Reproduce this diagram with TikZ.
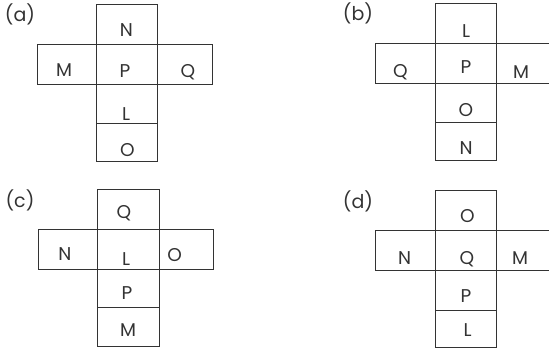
\documentclass[tikz,border=0pt]{standalone}
\usepackage{fontspec}
\setmainfont{Poppins}
\definecolor{ink}{HTML}{333333}
\tikzset{
  cellline/.style={draw=ink, line width=1pt},
  letter/.style={inner sep=0pt, text height=13pt, text depth=0pt, text=ink, font=\fontsize{18.5}{20}\selectfont},
  tag/.style={inner sep=0pt, text=ink, font=\fontsize{19}{22}\selectfont}
}
\begin{document}
\begin{tikzpicture}[x=1pt,y=-1pt]
\useasboundingbox (0,0) rectangle (549,350);
% ---------- (a)
\node[tag] (la) at (20,14) {(a)};
\draw[cellline] (96,5) rectangle (157,45);
\draw[cellline] (37,45) rectangle (96,85);
\draw[cellline] (96,45) rectangle (157,85);
\draw[cellline] (157,45) rectangle (212,85);
\draw[cellline] (96,85) rectangle (157,124);
\draw[cellline] (96,124) rectangle (157,162);
\node[letter] (aN) at (126.5,30) {N};
\node[letter] (aM) at (64,70) {M};
\node[letter] (aP) at (125,71.5) {P};
\node[letter] (aQ) at (188,71) {Q};
\node[letter] (aL) at (126,114) {L};
\node[letter] (aO) at (127.5,150) {O};
% ---------- (b)
\node[tag] (lb) at (358,13) {(b)};
\draw[cellline] (435,4) rectangle (496,44);
\draw[cellline] (375,44) rectangle (435,84);
\draw[cellline] (435,44) rectangle (496,84);
\draw[cellline] (549.6,44) -- (496,44) -- (496,84) -- (549.6,84);
\draw[cellline] (435,84) rectangle (496,123);
\draw[cellline] (435,123) rectangle (496,161);
\node[letter] (bL) at (466,31) {L};
\node[letter] (bP) at (466,67) {P};
\node[letter] (bQ) at (400.5,71) {Q};
\node[letter] (bM) at (521,72) {M};
\node[letter] (bO) at (466,110) {O};
\node[letter] (bN) at (466,148) {N};
% ---------- (c)
\node[tag] (lc) at (20,200) {(c)};
\draw[cellline] (97.7,189) rectangle (159,229.3);
\draw[cellline] (38.3,229.3) rectangle (97.7,269.3);
\draw[cellline] (97.7,229.3) rectangle (159,269.3);
\draw[cellline] (159,229.3) rectangle (213.3,269.3);
\draw[cellline] (97.7,269.3) rectangle (159,307.7);
\draw[cellline] (97.7,307.7) rectangle (159,346);
\node[letter] (cQ) at (124,212) {Q};
\node[letter] (cN) at (65,254) {N};
\node[letter] (cL) at (126,259) {L};
\node[letter] (cO) at (174.7,255) {O};
\node[letter] (cP) at (127,293) {P};
\node[letter] (cM) at (128,330) {M};
% ---------- (d)
\node[tag] (ld) at (358,201) {(d)};
\draw[cellline] (435,190.7) rectangle (496,230.7);
\draw[cellline] (375,230.7) rectangle (435,270.7);
\draw[cellline] (435,230.7) rectangle (496,270.7);
\draw[cellline] (549.6,230.7) -- (496,230.7) -- (496,270.7) -- (549.6,270.7);
\draw[cellline] (435,270.7) rectangle (496,310);
\draw[cellline] (435,310) rectangle (496,347.3);
\node[letter] (dO) at (467.5,216) {O};
\node[letter] (dN) at (404.5,258) {N};
\node[letter] (dQ) at (467,258) {Q};
\node[letter] (dM) at (520,258) {M};
\node[letter] (dP) at (466,295.5) {P};
\node[letter] (dL) at (467.5,330) {L};
\end{tikzpicture}
\end{document}
